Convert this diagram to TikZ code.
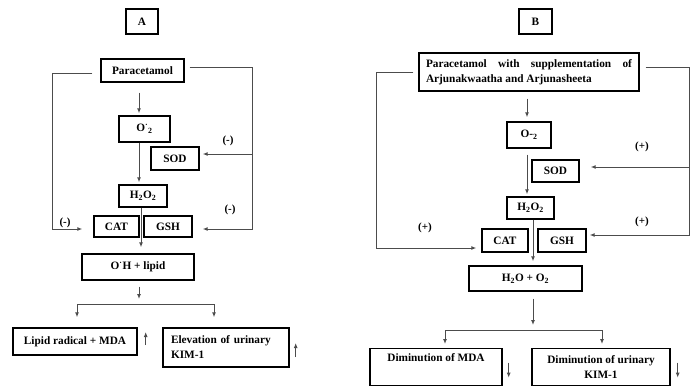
\documentclass[tikz,border=0pt]{standalone}
\usepackage{fontspec}
\setmainfont{Liberation Serif}
\usetikzlibrary{arrows.meta,calc}
\begin{document}
\begin{tikzpicture}[x=1pt,y=-1pt,
  box/.style={draw=black,line width=1.4pt,inner sep=2pt,font=\fontsize{11.3}{15}\selectfont\bfseries,align=center},
  conn/.style={draw=black!70,line width=1pt},
  arr/.style={conn,-{Latex[length=5pt,width=4pt]}},
  lbl/.style={font=\fontsize{11}{12}\selectfont\bfseries,inner sep=0pt}]
\useasboundingbox (0,0) rectangle (698,388);
% ---------------- Panel A ----------------
\node[box,minimum width=32,minimum height=25] (A) at (142,21.5) {A};
\node[box,minimum width=83,minimum height=23] (parA) at (142.5,70.5) {Paracetamol};
\node[box,minimum width=51,minimum height=26] (O2A) at (144.5,129) {O\textsuperscript{·}\textsubscript{2}};
\node[box,minimum width=48,minimum height=23] (SODA) at (175,158.5) {SOD};
\node[box,minimum width=48,minimum height=22] (H2O2A) at (143,196) {H\textsubscript{2}O\textsubscript{2}};
\node[box,minimum width=45,minimum height=21] (CATA) at (116.5,226.5) {CAT};
\node[box,minimum width=48,minimum height=21] (GSHA) at (168,226.5) {GSH};
\node[box,minimum width=112,minimum height=26] (OHA) at (138,267) {O\textsuperscript{·}H + lipid};
\node[box,minimum width=124,minimum height=27] (LipA) at (75,341.5) {Lipid radical + MDA};
\node[box,minimum width=126,minimum height=39,text width=110pt,align=left] (ElevA) at (226,347.5) {Elevation of urinary\\KIM-1};

\coordinate (axA) at (139,0);
\coordinate (ax2A) at (141,0);
\coordinate (xlA) at (52,0);
\coordinate (xrA) at (252,0);
\draw[arr,shorten <=10pt,shorten >=2pt] (parA.south -| axA) -- (O2A.north -| axA);
\draw[arr,shorten >=2pt] (O2A.south -| axA) -- (H2O2A.north -| axA);
\draw[arr,shorten >=6pt] (H2O2A.south -| ax2A) -- (OHA.north -| ax2A);
% feedback lines
\draw[arr] ($(parA.west)+(-8,2.5)$) -| ($(xlA |- CATA.west)+(0,2.5)$) -- ($(CATA.west)+(-11,2.5)$);
\draw[arr] ($(parA.east)+(5,-3.5)$) -| ($(xrA |- GSHA.east)+(0,2.5)$) -- ($(GSHA.east)+(10,2.5)$);
\draw[arr] ($(xrA |- SODA.east)+(0,-4.5)$) -- ($(SODA.east)+(3,-4.5)$);
\node[lbl] (mA1) at (228,141) {(-)};
\node[lbl] (mA2) at (65,223) {(-)};
\node[lbl] (mA3) at (230,210) {(-)};
% split
\coordinate (sA) at (139,304);
\coordinate (blA) at (77,304);
\coordinate (brA) at (214,304);
\draw[arr,shorten <=6pt,shorten >=5pt] (OHA.south -| axA) -- (sA);
\draw[conn] (blA) -- (brA);
\draw[arr,shorten >=10pt] (blA) -- (blA |- LipA.north);
\draw[arr,shorten >=10pt] (brA) -- (brA |- ElevA.north);
\draw[arr] ($(LipA.east)+(8,3.5)$) -- ++(0,-13);
\draw[arr] ($(ElevA.east)+(6,9.5)$) -- ++(0,-14);

% ---------------- Panel B ----------------
\node[box,minimum width=33,minimum height=25] (B) at (535.5,21.5) {B};
\node[box,minimum width=220,minimum height=38,text width=206pt,align=justify] (parB) at (529,72) {\hyphenpenalty=10000 Paracetamol with supplementation of\linebreak Arjunakwaatha and Arjunasheeta};
\node[box,minimum width=44,minimum height=26] (O2B) at (529,135) {O-\textsubscript{2}};
\node[box,minimum width=47,minimum height=22] (SODB) at (555.5,171) {SOD};
\node[box,minimum width=47,minimum height=22] (H2O2B) at (530.5,208) {H\textsubscript{2}O\textsubscript{2}};
\node[box,minimum width=46,minimum height=23] (CATB) at (505,240.5) {CAT};
\node[box,minimum width=48,minimum height=23] (GSHB) at (562,240.5) {GSH};
\node[box,minimum width=113,minimum height=25] (H2OB) at (525.5,278.5) {H\textsubscript{2}O + O\textsubscript{2}};
\node[box,minimum width=132,minimum height=37,anchor=north] (DimMDA) at (436,348) {Diminution of MDA\vphantom{Ag}\\\strut};
\node[box,minimum width=138,minimum height=37,anchor=north] (DimKIM) at (601,348) {Diminution of urinary\\KIM-1};

\coordinate (axB) at (527,0);
\coordinate (ax2B) at (533,0);
\coordinate (xlB) at (376,0);
\coordinate (xrB) at (689,0);
\draw[arr,shorten <=7pt,shorten >=4pt] (parB.south -| axB) -- (O2B.north -| axB);
\draw[arr,shorten <=6pt,shorten >=2pt] (O2B.south -| axB) -- (H2O2B.north -| axB);
\draw[arr,shorten >=4pt] (H2O2B.south -| ax2B) -- (H2OB.north -| ax2B);
\draw[arr] ($(parB.west)+(-5,0)$) -| ($(xlB |- CATB.west)+(0,7.5)$) -- ($(CATB.west)+(-5,7.5)$);
\draw[arr] ($(parB.east)+(6,-5)$) -| ($(xrB |- GSHB.east)+(0,-5.5)$) -- ($(GSHB.east)+(3,-5.5)$);
\draw[arr] ($(xrB |- SODB.east)+(0,-4)$) -- ($(SODB.east)+(11,-4)$);
\node[lbl] (pB1) at (642,147) {(+)};
\node[lbl] (pB2) at (642,222) {(+)};
\node[lbl] (pB3) at (425,228) {(+)};
\coordinate (sB) at (533,330);
\coordinate (blB) at (445,330);
\coordinate (brB) at (602,330);
\draw[arr,shorten <=7pt,shorten >=5pt] (H2OB.south -| ax2B) -- (sB);
\draw[conn] (blB) -- (brB);
\draw[arr,shorten >=4pt] (blB) -- (blB |- DimMDA.north);
\draw[arr,shorten >=4pt] (brB) -- (brB |- DimKIM.north);
\draw[arr] ($(DimMDA.east)+(6,-4.5)$) -- ++(0,15);
\draw[arr] ($(DimKIM.east)+(7,-4.5)$) -- ++(0,15);
\end{tikzpicture}
\end{document}
